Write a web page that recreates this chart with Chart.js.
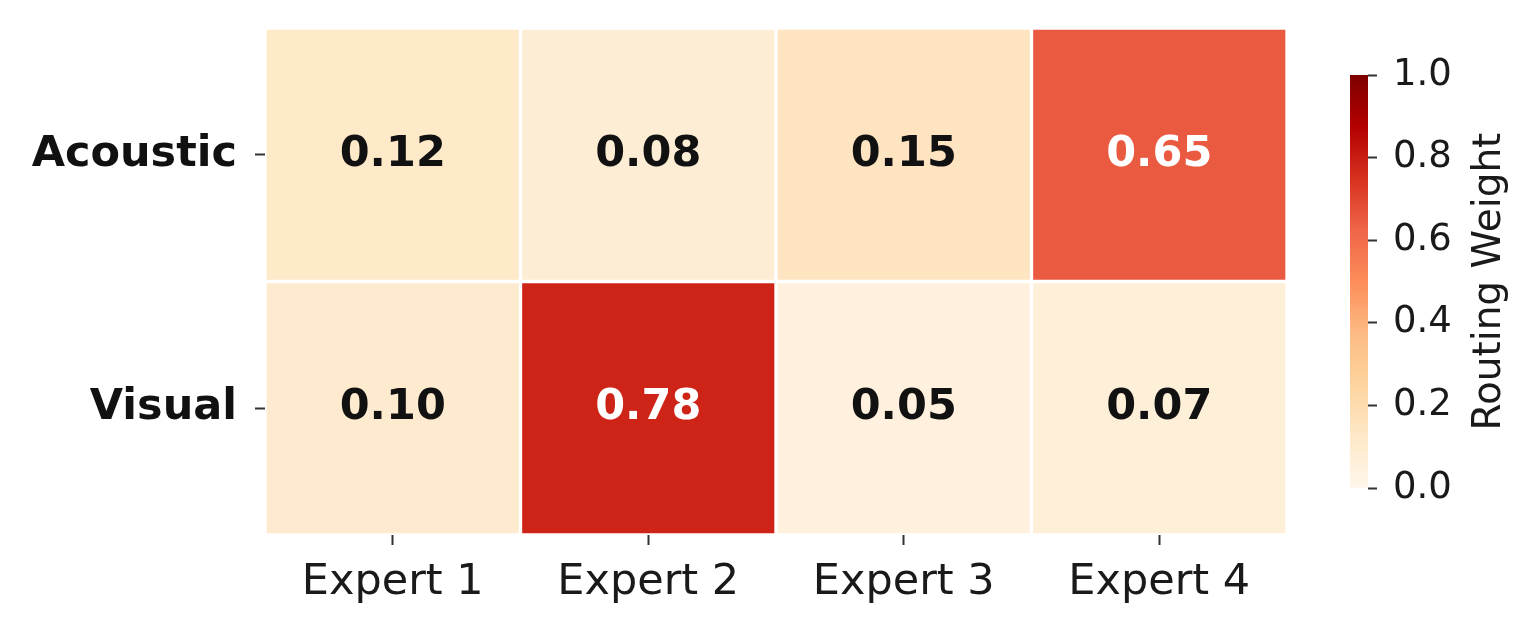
<!DOCTYPE html>
<html>
<head>
<meta charset="utf-8">
<script src="https://cdn.jsdelivr.net/npm/chart.js@4.4.1/dist/chart.umd.min.js"></script>
<style>
  html, body { margin: 0; padding: 0; background: #ffffff; }
  #wrap { position: relative; width: 1536px; height: 633px; overflow: hidden; }
  #main { position: absolute; left: 0; top: 0; }
  #cbar { position: absolute; left: 1300px; top: 0; }
</style>
</head>
<body>
<div id="wrap">
  <canvas id="main" width="1536" height="633"></canvas>
  <canvas id="cbar" width="236" height="633"></canvas>
</div>
<script>
// ---- data ----
const experts = ['Expert 1', 'Expert 2', 'Expert 3', 'Expert 4'];
const rowLabels = ['Acoustic', 'Visual'];
const acousticWeights = [0.12, 0.08, 0.15, 0.65];
const visualWeights = [0.10, 0.78, 0.05, 0.07];
const colorbarTicks = [0.0, 0.2, 0.4, 0.6, 0.8, 1.0];
const colorbarTitle = 'Routing Weight';

// ---- colormap (OrRd) ----
const orrdStops = ['#fff7ec', '#fee8c8', '#fdd49e', '#fdbb84', '#fc8d59', '#ef6548', '#d7301f', '#b30000', '#7f0000'];
function hexToRgb(h) { return [parseInt(h.slice(1, 3), 16), parseInt(h.slice(3, 5), 16), parseInt(h.slice(5, 7), 16)]; }
function cmapRgb(v) {
  const n = orrdStops.length - 1;
  const t = Math.min(Math.max(v, 0), 1) * n;
  const i = Math.min(Math.floor(t), n - 1);
  const f = t - i;
  const a = hexToRgb(orrdStops[i]), b = hexToRgb(orrdStops[i + 1]);
  return a.map((c, k) => Math.round(c + (b[k] - c) * f));
}
function cmap(v) { const c = cmapRgb(v); return `rgb(${c[0]},${c[1]},${c[2]})`; }
function textColorFor(v) {
  const c = cmapRgb(v).map(x => { x /= 255; return x <= 0.03928 ? x / 12.92 : Math.pow((x + 0.055) / 1.055, 2.4); });
  const lum = 0.2126 * c[0] + 0.7152 * c[1] + 0.0722 * c[2];
  return lum > 0.408 ? '#111111' : '#ffffff';
}

const FONT = "'DejaVu Sans', sans-serif";
const rowValues = [acousticWeights, visualWeights];
const nRows = rowLabels.length;

const datasets = rowLabels.map((name, r) => ({
  label: name,
  data: experts.map(() => [nRows - 1 - r, nRows - r]),
  weights: rowValues[r],
  backgroundColor: rowValues[r].map(cmap),
  borderColor: '#ffffff',
  borderWidth: 2,
  borderSkipped: false,
  barPercentage: 1,
  categoryPercentage: 1,
  grouped: false
}));

const annotatePlugin = {
  id: 'annotate',
  afterDatasetsDraw(chart) {
    const ctx = chart.ctx;
    ctx.save();
    ctx.font = `bold 43px ${FONT}`;
    ctx.textAlign = 'center';
    ctx.textBaseline = 'middle';
    chart.data.datasets.forEach((ds, i) => {
      const meta = chart.getDatasetMeta(i);
      meta.data.forEach((bar, j) => {
        const v = ds.weights[j];
        const p = bar.getCenterPoint();
        ctx.fillStyle = textColorFor(v);
        ctx.fillText(v.toFixed(2), p.x, p.y);
      });
    });
    ctx.restore();
  }
};

new Chart(document.getElementById('main'), {
  type: 'bar',
  data: { labels: experts, datasets },
  options: {
    responsive: false,
    animation: false,
    devicePixelRatio: 1,
    layout: { padding: { left: 0, top: 28, right: 249, bottom: 0 } },
    plugins: { legend: { display: false }, tooltip: { enabled: false } },
    scales: {
      x: {
        type: 'category',
        offset: true,
        grid: { offset: false, drawOnChartArea: false, drawTicks: true, tickLength: 10, tickColor: '#333333', tickWidth: 2 },
        border: { display: false },
        ticks: { font: { family: FONT, size: 43 }, color: '#1a1a1a', padding: 12, maxRotation: 0 },
        afterFit(scale) { scale.height = 98; scale.paddingLeft = 0; scale.paddingRight = 0; }
      },
      y: {
        type: 'linear',
        min: 0,
        max: nRows,
        afterBuildTicks(scale) { scale.ticks = rowLabels.map((_, r) => ({ value: nRows - 1 - r + 0.5 })); },
        grid: { drawOnChartArea: false, drawTicks: true, tickLength: 10, tickColor: '#333333', tickWidth: 2 },
        border: { display: false },
        ticks: {
          font: { family: FONT, size: 43, weight: 'bold' },
          color: '#111111',
          padding: 18,
          callback(value) { const r = nRows - 1 - Math.floor(value); return rowLabels[r]; }
        },
        afterFit(scale) { scale.width = 265; scale.paddingTop = 0; scale.paddingBottom = 0; }
      }
    }
  },
  plugins: [annotatePlugin]
});

// ---- colorbar ----
const cbTitlePlugin = {
  id: 'cbTitle',
  afterDraw(chart) {
    const ca = chart.chartArea;
    const ctx = chart.ctx;
    ctx.save();
    ctx.translate(190, (ca.top + ca.bottom) / 2);
    ctx.rotate(-Math.PI / 2);
    ctx.font = `39px ${FONT}`;
    ctx.fillStyle = '#1a1a1a';
    ctx.textAlign = 'center';
    ctx.textBaseline = 'middle';
    ctx.fillText(colorbarTitle, 0, 0);
    ctx.restore();
  }
};

new Chart(document.getElementById('cbar'), {
  type: 'bar',
  data: {
    labels: [''],
    datasets: [{
      data: [[colorbarTicks[0], colorbarTicks[colorbarTicks.length - 1]]],
      backgroundColor(c) {
        const ca = c.chart.chartArea;
        if (!ca) return orrdStops[0];
        const g = c.chart.ctx.createLinearGradient(0, ca.bottom, 0, ca.top);
        orrdStops.forEach((col, k) => g.addColorStop(k / (orrdStops.length - 1), col));
        return g;
      },
      borderWidth: 0,
      barPercentage: 1,
      categoryPercentage: 1
    }]
  },
  options: {
    responsive: false,
    animation: false,
    devicePixelRatio: 1,
    layout: { padding: { left: 50, top: 75, right: 0, bottom: 145 } },
    plugins: { legend: { display: false }, tooltip: { enabled: false } },
    scales: {
      x: { display: false },
      y: {
        position: 'right',
        min: 0,
        max: 1,
        afterBuildTicks(scale) { scale.ticks = colorbarTicks.map(v => ({ value: v })); },
        grid: { drawOnChartArea: false, drawTicks: true, tickLength: 9, tickColor: '#333333', tickWidth: 2 },
        border: { display: false },
        ticks: { font: { family: FONT, size: 37 }, color: '#1a1a1a', padding: 16, callback: v => v.toFixed(1) },
        afterFit(scale) { scale.width = 168; }
      }
    }
  },
  plugins: [cbTitlePlugin]
});
</script>
</body>
</html>
